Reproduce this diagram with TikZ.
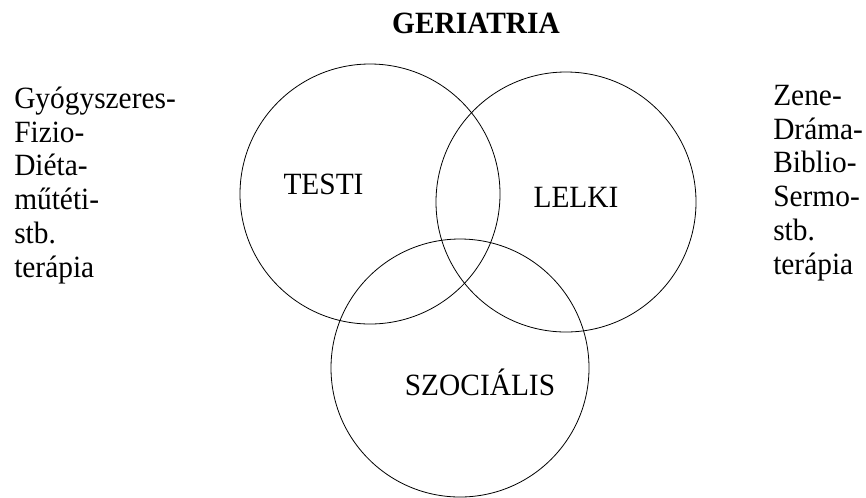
\documentclass[tikz,border=0pt]{standalone}
\usepackage{fontspec}
\setmainfont{Liberation Serif}
\usepackage{tikz}
\usetikzlibrary{positioning}
\newcommand{\narrow}[1]{\scalebox{0.95}[1]{#1}}
\tikzset{
  ring/.style={draw, circle, line width=0.6pt, minimum size=#1, inner sep=0pt},
  lbl/.style={inner sep=0pt, font=\fontsize{23.2}{25.3}\selectfont},
  side/.style={lbl, anchor=base west}
}

\begin{document}
\begin{tikzpicture}[x=0.75pt,y=-0.75pt]
        \useasboundingbox (0,0) rectangle (866,497);
        % the three circles
        \node[ring=195pt] (testi) at (370,194) {};
        \node[ring=195pt] (lelki) at (566,202) {};
        \node[ring=193.5pt] (szoc) at (460,368) {};
        % labels
        \node[lbl, anchor=base, font=\fontsize{23.2}{25.3}\selectfont\bfseries] (title) at (476,33) {\narrow{GERIATRIA}};
        \node[lbl, anchor=base] (testilbl) at (323.5,194) {\narrow{TESTI}};
        \node[lbl, anchor=base] (lelkilbl) at (576,207) {\narrow{LELKI}};
        \node[lbl, anchor=base] (szoclbl) at (480,395) {\narrow{SZOCIÁLIS}};
        \node[side] (left) at (14,277) {\narrow{\begin{tabular}[b]{@{}l@{}}Gyógyszeres-\\Fizio-\\Diéta-\\műtéti-\\stb.\\terápia\end{tabular}}};
        \node[side] (right) at (773,274) {\narrow{\begin{tabular}[b]{@{}l@{}}Zene-\\Dráma-\\Biblio-\\Sermo-\\stb.\\terápia\end{tabular}}};
      \end{tikzpicture}
\end{document}
